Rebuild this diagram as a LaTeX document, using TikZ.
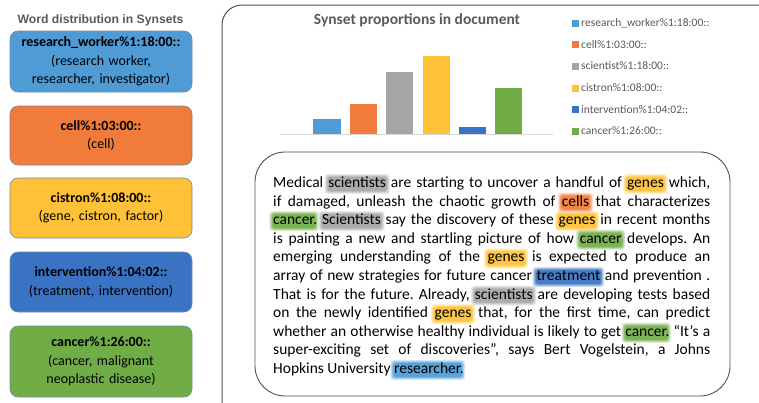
\documentclass[tikz,border=0pt]{standalone}
\usepackage{fontspec}
\setmainfont{Carlito}
\newfontfamily\headfont{Liberation Sans}
\definecolor{cBlueL}{HTML}{4E9BD6}
\definecolor{cOrange}{HTML}{F17B3B}
\definecolor{cGrey}{HTML}{A5A5A5}
\definecolor{cYellow}{HTML}{FFC137}
\definecolor{cBlueD}{HTML}{3A73C3}
\definecolor{cGreen}{HTML}{70AD47}
\definecolor{cEdge}{HTML}{6F8BA8}
\definecolor{cTitle}{HTML}{595959}
\definecolor{cFrame}{HTML}{505050}

% soft marker-style highlight behind a word: stacked translucent rounded boxes
\newlength\hlw
\newcommand\hl[2]{\settowidth{\hlw}{#2}%
  \makebox[0pt][l]{\tikz[overlay,x=1pt,y=1pt]{%
    \foreach \e/\o in {3/0.22,2/0.3,1/0.45,0/0.75}{%
      \fill[#1,opacity=\o,rounded corners=3pt]
        (-\e pt-0.8pt,-3.6pt-\e pt) rectangle (\hlw+\e pt+0.8pt,10.6pt+\e pt);}}}#2}

\tikzset{
  synbox/.style={draw=cEdge, line width=0.6pt, rounded corners=8pt, minimum width=182pt,
    text width=176pt, align=center, font=\fontsize{14}{18.5}\selectfont, inner sep=0pt},
  bar/.style={draw=white, line width=0.4pt},
  legsq/.style={minimum size=7pt, inner sep=0pt},
  legtxt/.style={anchor=west, inner sep=0pt, text=cTitle, font=\fontsize{11.5}{13}\selectfont},
}

\begin{document}
\begin{tikzpicture}[x=1pt, y=-1pt]
\useasboundingbox (0,0) rectangle (759,402);

% outer frame around chart and text
\begin{scope}
\clip (0,0) rectangle (759,402);
\draw[cFrame, line width=1pt, rounded corners=20pt] (222,5) rectangle (790,425);
\end{scope}

% left column: word distribution in synsets
\node[font=\headfont\bfseries\fontsize{12.2}{14}\selectfont, text=cTitle] (lt) at (100.5,20) {Word distribution in Synsets};
\node[synbox, fill=cBlueL, minimum height=61pt] (s1) at (101,61.5)
  {\textbf{research\_worker\%1:18:00::}\\(research worker,\\researcher, investigator)};
\node[synbox, fill=cOrange, minimum height=59pt] (s2) at (101,135.5)
  {\textbf{cell\%1:03:00::}\\(cell)};
\node[synbox, fill=cYellow, minimum height=60pt] (s3) at (101,208)
  {\textbf{cistron\%1:08:00::}\\(gene, cistron, factor)};
\node[synbox, fill=cBlueD, minimum height=60pt] (s4) at (101,282)
  {\textbf{intervention\%1:04:02::}\\(treatment, intervention)};
\node[synbox, fill=cGreen, minimum height=71pt] (s5) at (101,361.5)
  {\textbf{cancer\%1:26:00::}\\(cancer, malignant\\neoplastic disease)};

% bar chart
\node[font=\bfseries\fontsize{15.5}{17}\selectfont, text=cTitle] (ct) at (417,20) {Synset proportions in document};
\draw[fill=cBlueL, bar]  (312,134) rectangle (341,118);
\draw[fill=cOrange, bar] (349,134) rectangle (377,103);
\draw[fill=cGrey, bar]   (385,134) rectangle (413,71);
\draw[fill=cYellow, bar] (422,134) rectangle (450,55);
\draw[fill=cBlueD, bar]  (458,134) rectangle (486,126);
\draw[fill=cGreen, bar]  (494,134) rectangle (522,87);
\draw[color=black!15, line width=0.8pt] (280,134) -- (553,134);

% legend
\node[legsq, fill=cBlueL]  (q1) at (575.5,23) {};
\node[legsq, fill=cOrange] (q2) at (575.5,44.5) {};
\node[legsq, fill=cGrey]   (q3) at (575.5,66) {};
\node[legsq, fill=cYellow] (q4) at (575.5,88) {};
\node[legsq, fill=cBlueD]  (q5) at (575.5,109.5) {};
\node[legsq, fill=cGreen]  (q6) at (575.5,131) {};
\node[legtxt] at (581,23)    {research\_worker\%1:18:00::};
\node[legtxt] at (581,44.5)  {cell\%1:03:00::};
\node[legtxt] at (581,66)    {scientist\%1:18:00::};
\node[legtxt] at (581,88)    {cistron\%1:08:00::};
\node[legtxt] at (581,109.5) {intervention\%1:04:02::};
\node[legtxt] at (581,131)   {cancer\%1:26:00::};

% document text
\draw[cFrame, line width=0.9pt, rounded corners=30pt] (255,152) rectangle (730,396);
\node[anchor=base west, inner sep=0pt, font=\fontsize{15.5}{18.6}\selectfont] (doc) at (273,187.5)
{\parbox[t]{437pt}{\frenchspacing
Medical \hl{cGrey}{scientists} are starting to uncover a handful of \hl{cYellow}{genes} which,\linebreak
if damaged, unleash the chaotic growth of \hl{cOrange}{cells} that characterizes\linebreak
\hl{cGreen}{cancer}. \hl{cGrey}{Scientists} say the discovery of these \hl{cYellow}{genes} in recent months\linebreak
is painting a new and startling picture of how \hl{cGreen}{cancer} develops. An\linebreak
emerging understanding of the \hl{cYellow}{genes} is expected to produce an\linebreak
array of new strategies for future cancer \hl{cBlueD}{treatment} and prevention .\linebreak
That is for the future. Already, \hl{cGrey}{scientists} are developing tests based\linebreak
on the newly identified \hl{cYellow}{genes} that, for the first time, can predict\linebreak
whether an otherwise healthy individual is likely to get \hl{cGreen}{cancer}. “It's a\linebreak
super-exciting set of discoveries”, says Bert Vogelstein, a Johns\linebreak
Hopkins University \hl{cBlueL}{researcher}.}};
\end{tikzpicture}
\end{document}
